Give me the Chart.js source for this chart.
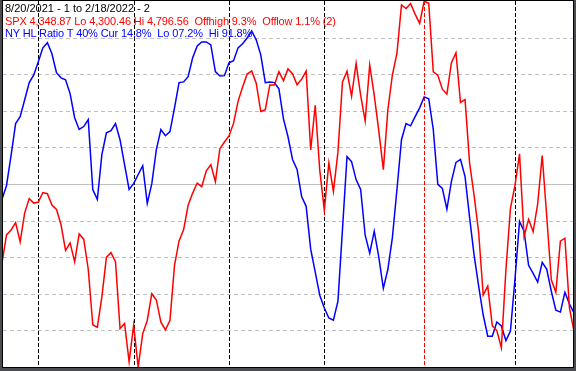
<!DOCTYPE html>
<html><head><meta charset="utf-8">
<script src="https://cdn.jsdelivr.net/npm/chart.js@4"></script>
<style>
html,body{margin:0;padding:0;background:#4b4b52;}
#wrap{position:relative;width:576px;height:371px;overflow:hidden;}
canvas{display:block}
.t{position:absolute;left:5px;font-family:"Liberation Sans",Arial,sans-serif;font-size:11px;white-space:pre;line-height:13px;}
.n{letter-spacing:-0.13px;}
</style></head><body>
<div id="wrap"><canvas id="c" width="576" height="371"></canvas>
<div class="t" style="top:2px;color:#000">8/20/2021 - 1 to 2/18/2022 - 2</div>
<div class="t n" style="top:14.5px;color:#f00">SPX 4,348.87 Lo 4,300.46 Hi 4,796.56  Offhigh 9.3%  Offlow 1.1% (2)</div>
<div class="t n" style="top:27px;color:#00f">NY HL Ratio T 40% Cur 14.8%  Lo 07.2%  Hi 91.8%</div>
</div>
<script>
const dates = ["8/20/2021","8/23/2021","8/24/2021","8/25/2021","8/26/2021","8/27/2021","8/30/2021","8/31/2021",
"9/1/2021","9/2/2021","9/3/2021","9/7/2021","9/8/2021","9/9/2021","9/10/2021","9/13/2021","9/14/2021","9/15/2021","9/16/2021","9/17/2021","9/20/2021","9/21/2021","9/22/2021","9/23/2021","9/24/2021","9/27/2021","9/28/2021","9/29/2021","9/30/2021",
"10/1/2021","10/4/2021","10/5/2021","10/6/2021","10/7/2021","10/8/2021","10/11/2021","10/12/2021","10/13/2021","10/14/2021","10/15/2021","10/18/2021","10/19/2021","10/20/2021","10/21/2021","10/22/2021","10/25/2021","10/26/2021","10/27/2021","10/28/2021","10/29/2021",
"11/1/2021","11/2/2021","11/3/2021","11/4/2021","11/5/2021","11/8/2021","11/9/2021","11/10/2021","11/11/2021","11/12/2021","11/15/2021","11/16/2021","11/17/2021","11/18/2021","11/19/2021","11/22/2021","11/23/2021","11/24/2021","11/26/2021","11/29/2021","11/30/2021",
"12/1/2021","12/2/2021","12/3/2021","12/6/2021","12/7/2021","12/8/2021","12/9/2021","12/10/2021","12/13/2021","12/14/2021","12/15/2021","12/16/2021","12/17/2021","12/20/2021","12/21/2021","12/22/2021","12/23/2021","12/27/2021","12/28/2021","12/29/2021","12/30/2021","12/31/2021",
"1/3/2022","1/4/2022","1/5/2022","1/6/2022","1/7/2022","1/10/2022","1/11/2022","1/12/2022","1/13/2022","1/14/2022","1/18/2022","1/19/2022","1/20/2022","1/21/2022","1/24/2022","1/25/2022","1/26/2022","1/27/2022","1/28/2022","1/31/2022",
"2/1/2022","2/2/2022","2/3/2022","2/4/2022","2/7/2022","2/8/2022","2/9/2022","2/10/2022","2/11/2022","2/14/2022","2/15/2022","2/16/2022","2/17/2022","2/18/2022"];

const spx = [4441.67,4479.53,4486.23,4496.19,4470.00,4509.37,4528.79,4522.68,
4524.09,4536.95,4535.43,4520.03,4514.07,4493.28,4458.58,4468.73,4443.05,4480.70,4473.75,4432.99,4357.73,4354.19,4395.64,4448.98,4455.48,4443.11,4352.63,4359.46,4307.54,
4357.04,4300.46,4345.72,4363.55,4399.76,4391.34,4361.19,4350.65,4363.80,4438.26,4471.37,4486.46,4519.63,4536.19,4549.78,4544.90,4566.48,4574.79,4551.68,4596.42,4605.38,
4613.67,4630.65,4660.57,4680.06,4697.53,4701.70,4685.25,4646.71,4649.27,4682.85,4682.80,4700.90,4688.67,4704.54,4697.96,4682.94,4690.70,4701.46,4594.62,4655.27,4567.00,
4513.04,4577.10,4538.43,4591.67,4686.75,4701.21,4667.45,4712.02,4668.97,4634.09,4709.85,4668.67,4620.64,4568.02,4649.23,4696.56,4725.79,4791.19,4786.35,4793.06,4778.73,4766.18,
4796.56,4793.54,4700.58,4696.05,4677.03,4670.29,4713.07,4726.35,4659.03,4662.85,4577.11,4532.76,4482.73,4397.94,4410.13,4356.45,4349.93,4326.51,4431.85,4515.55,
4546.54,4589.38,4477.44,4500.53,4483.87,4521.54,4587.18,4504.08,4418.64,4401.67,4471.07,4475.01,4380.26,4348.87];

const nyhlRatio = [45.8,49.6,57.8,66.5,68.4,73.0,77.7,79.8,83.4,87.2,
88.6,85.6,80.4,79.0,78.5,74.7,68.1,64.9,65.7,67.6,
48.5,45.8,58.0,64.0,64.6,66.5,62.1,55.3,48.5,50.1,
52.6,55.0,44.7,50.1,59.4,64.9,63.2,64.3,70.8,77.7,
77.9,79.3,84.5,87.7,88.8,88.8,88.0,80.7,79.5,79.6,
83.1,83.7,87.2,88.3,89.9,91.8,89.4,85.3,77.7,77.9,
77.7,76.0,67.8,62.9,56.7,54.0,46.6,43.9,32.2,25.9,
19.6,16.1,13.4,12.8,18.0,37.6,57.5,56.1,51.2,48.5,
36.0,31.1,37.1,30.0,21.5,26.7,35.4,48.5,62.1,66.5,
65.9,68.4,70.8,73.8,73.3,64.9,49.9,48.8,43.1,50.7,
55.9,56.7,52.0,40.9,30.5,22.1,14.2,8.4,8.4,12.3,
11.2,7.2,9.8,24.0,39.8,37.1,27.8,25.6,23.2,28.6,
26.7,20.7,15.5,15.0,20.4,17.2,14.8];

const spxLo = 4300.46, spxHi = 4796.56;
const ratioTicks = [10,20,30,40,50,60,70,80,90];
const monthStarts = ["9/1/2021","10/1/2021","11/1/2021","12/1/2021","1/3/2022","2/1/2022"];
const highDate = "1/3/2022";

const BG = '#4b4b52';
const framePlugin = {
  id: 'frame',
  beforeDraw(chart) {
    const {ctx, width, height} = chart;
    ctx.save();
    ctx.fillStyle = BG; ctx.fillRect(0, 0, width, height);
    ctx.fillStyle = '#fff'; ctx.fillRect(3, 1, 570, 366);
    ctx.restore();
  },
  beforeDatasetsDraw(chart) {
    const {ctx, scales} = chart;
    ctx.save();
    ctx.lineWidth = 1;
    ratioTicks.forEach(v => {
      const y = Math.round(scales.y.getPixelForValue(v)) + 0.5;
      ctx.strokeStyle = '#c0c0c0';
      ctx.setLineDash(v === 50 ? [] : [4, 3]);
      ctx.beginPath(); ctx.moveTo(3, y); ctx.lineTo(573, y); ctx.stroke();
    });
    monthStarts.forEach(d => {
      const i = dates.indexOf(d);
      const x = Math.round(scales.x.getPixelForValue(i)) + 0.5;
      ctx.strokeStyle = d === highDate ? '#ff0000' : '#000000';
      ctx.setLineDash([4, 2]);
      ctx.beginPath(); ctx.moveTo(x, 1); ctx.lineTo(x, 367); ctx.stroke();
    });
    ctx.restore();
  },
  afterDatasetsDraw(chart) {
    const {ctx, width, height} = chart;
    ctx.save();
    ctx.fillStyle = BG;
    ctx.fillRect(0, 0, 2, height);
    ctx.fillRect(574, 0, width - 574, height);
    ctx.fillRect(0, 368, width, height - 368);
    ctx.strokeStyle = '#000'; ctx.lineWidth = 1; ctx.setLineDash([]);
    ctx.strokeRect(2.5, 0.5, 571, 367);
    ctx.restore();
  }
};

new Chart(document.getElementById('c'), {
  type: 'line',
  data: {
    datasets: [
      { label: 'SPX', data: spx.map((v, i) => ({x: i, y: v})), yAxisID: 'y2',
        borderColor: '#ff0000', borderWidth: 1.5, pointRadius: 0, tension: 0, clip: false },
      { label: 'NY HL Ratio', data: nyhlRatio.map((v, i) => ({x: i, y: v})), yAxisID: 'y',
        borderColor: '#0000ff', borderWidth: 1.5, pointRadius: 0, tension: 0, clip: false }
    ]
  },
  options: {
    responsive: false, animation: false, devicePixelRatio: 1,
    layout: { padding: { left: 2, right: 2, top: 1, bottom: 4 } },
    plugins: { legend: { display: false }, tooltip: { enabled: false }, title: { display: false } },
    scales: {
      x: { type: 'linear', min: 0, max: dates.length - 1, display: false },
      y: { min: 0, max: 100, display: false },
      y2: { min: spxLo, max: spxHi, display: false }
    }
  },
  plugins: [framePlugin]
});
</script>
</body></html>
